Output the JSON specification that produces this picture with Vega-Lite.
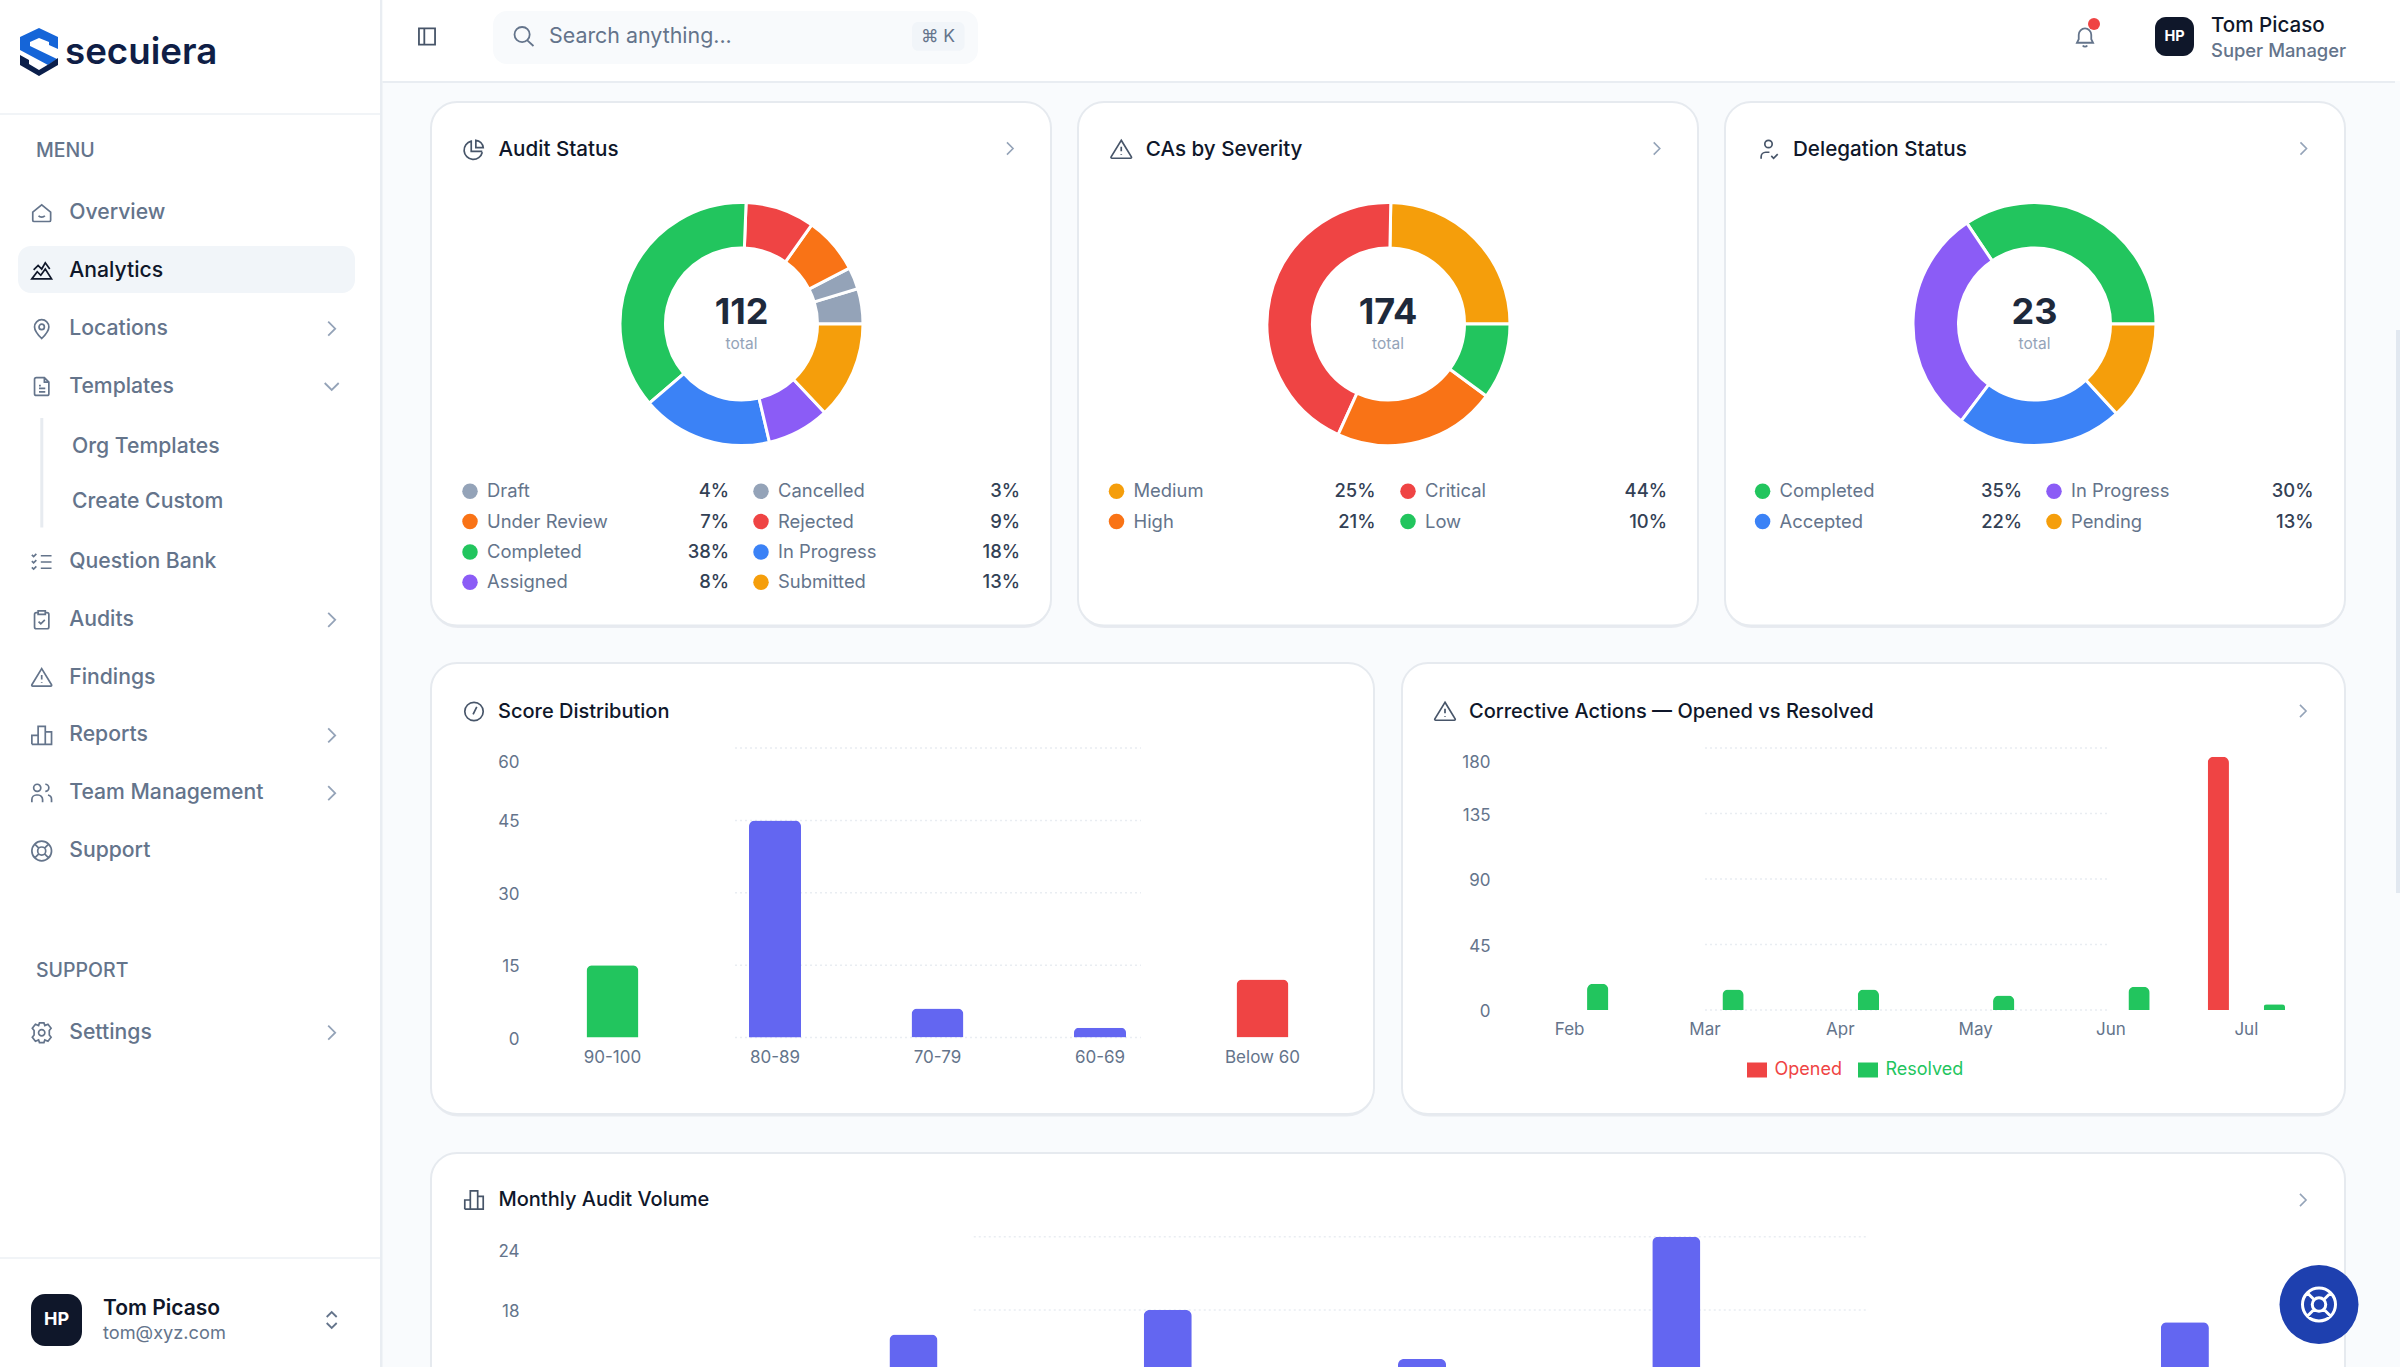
{
"$schema":"https://vega.github.io/schema/vega-lite/v6.json",
"width":2400,"height":1367,"padding":0,
"autosize":{"type":"none"},
"background":"#f9fbfd",
"config":{"font":"Inter","view":{"stroke":null},"axis":{"disable":true,"domain":false,"ticks":false,"grid":false},"legend":{"disable":true},"scale":{"pointPadding":0,"bandPaddingInner":0,"bandPaddingOuter":0}},
"resolve":{"scale":{"x":"independent","y":"independent","color":"independent","shape":"independent","theta":"independent","xOffset":"independent"},"axis":{"x":"independent","y":"independent"}},
"datasets":{
"menu":[
{"label":"Overview","group":"top"},{"label":"Analytics","group":"top"},{"label":"Locations","group":"top","arrow":"right"},{"label":"Templates","group":"top"},
{"label":"Question Bank","group":"bottom"},{"label":"Audits","group":"bottom","arrow":"right"},{"label":"Findings","group":"bottom"},{"label":"Reports","group":"bottom","arrow":"right"},{"label":"Team Management","group":"bottom","arrow":"right"},{"label":"Support","group":"bottom"},
{"label":"Settings","group":"settings","arrow":"right"}],
"audit":[
{"status":"Draft","share":0.04,"sweep":4.7,"rank":8,"column":"left","line":"first"},{"status":"Cancelled","share":0.03,"sweep":2.9,"rank":7,"column":"right","line":"first"},
{"status":"Under Review","share":0.07,"sweep":7.6,"rank":6,"column":"left","line":"second"},{"status":"Rejected","share":0.09,"sweep":9.2,"rank":5,"column":"right","line":"second"},
{"status":"Completed","share":0.38,"sweep":36.9,"rank":4,"column":"left","line":"third"},{"status":"In Progress","share":0.18,"sweep":17.4,"rank":3,"column":"right","line":"third"},
{"status":"Assigned","share":0.08,"sweep":8.3,"rank":2,"column":"left","line":"fourth"},{"status":"Submitted","share":0.13,"sweep":13,"rank":1,"column":"right","line":"fourth"}],
"severity":[
{"status":"Medium","share":0.25,"sweep":24.7,"rank":4,"column":"left","line":"first"},{"status":"Critical","share":0.44,"sweep":43.5,"rank":3,"column":"right","line":"first"},
{"status":"High","share":0.21,"sweep":21.7,"rank":2,"column":"left","line":"second"},{"status":"Low","share":0.10,"sweep":10.1,"rank":1,"column":"right","line":"second"}],
"delegation":[
{"status":"Completed","share":0.35,"sweep":34.4,"rank":4,"column":"left","line":"first"},{"status":"In Progress","share":0.30,"sweep":30.3,"rank":3,"column":"right","line":"first"},
{"status":"Accepted","share":0.22,"sweep":22.1,"rank":2,"column":"left","line":"second"},{"status":"Pending","share":0.13,"sweep":13.2,"rank":1,"column":"right","line":"second"}],
"totals":[{"card":"Audit Status","total":112,"unit":"total"},{"card":"CAs by Severity","total":174,"unit":"total"},{"card":"Delegation Status","total":23,"unit":"total"}],
"scores":[{"band":"90-100","count":15},{"band":"80-89","count":45},{"band":"70-79","count":6},{"band":"60-69","count":2},{"band":"Below 60","count":12}],
"actions":[
{"month":"Feb","series":"Opened","count":0},{"month":"Feb","series":"Resolved","count":18},
{"month":"Mar","series":"Opened","count":0},{"month":"Mar","series":"Resolved","count":14},
{"month":"Apr","series":"Opened","count":0},{"month":"Apr","series":"Resolved","count":14},
{"month":"May","series":"Opened","count":0},{"month":"May","series":"Resolved","count":10},
{"month":"Jun","series":"Opened","count":0},{"month":"Jun","series":"Resolved","count":16},
{"month":"Jul","series":"Opened","count":174},{"month":"Jul","series":"Resolved","count":4}],
"monthly":[{"month":"Jan","count":12},{"month":"Feb","count":16},{"month":"Mar","count":18},{"month":"Apr","count":14},{"month":"May","count":24},{"month":"Jun","count":11},{"month":"Jul","count":17}],
"scoreTicks":[{"tick":0},{"tick":15},{"tick":30},{"tick":45},{"tick":60}],
"actionTicks":[{"tick":0},{"tick":45},{"tick":90},{"tick":135},{"tick":180}],
"monthlyTicks":[{"tick":18},{"tick":24}]
},
"layer":[
{"data":{"values":[{"part":"sidebar"}]},"mark":{"type":"rect","color":"#ffffff"},"encoding":{"x":{"field":"part","type":"nominal","scale":{"range":[0,381]}},"y":{"field":"part","type":"nominal","scale":{"range":[0,1367]}}}},
{"data":{"values":[{"part":"sidebar edge"}]},"mark":{"type":"rect","color":"#e9edf2"},"encoding":{"x":{"field":"part","type":"nominal","scale":{"range":[380,382.5]}},"y":{"field":"part","type":"nominal","scale":{"range":[0,1367]}}}},
{"data":{"values":[{"part":"topbar"}]},"mark":{"type":"rect","color":"#ffffff"},"encoding":{"x":{"field":"part","type":"nominal","scale":{"range":[382.5,2400]}},"y":{"field":"part","type":"nominal","scale":{"range":[0,81]}}}},
{"data":{"values":[{"part":"topbar edge"}]},"mark":{"type":"rect","color":"#e9edf2"},"encoding":{"x":{"field":"part","type":"nominal","scale":{"range":[382.5,2395]}},"y":{"field":"part","type":"nominal","scale":{"range":[81,83]}}}},
{"data":{"values":[{"part":"logo edge"}]},"mark":{"type":"rect","color":"#f1f4f7"},"encoding":{"x":{"field":"part","type":"nominal","scale":{"range":[0,380]}},"y":{"field":"part","type":"nominal","scale":{"range":[113,115]}}}},
{"data":{"values":[{"part":"user edge"}]},"mark":{"type":"rect","color":"#f1f4f7"},"encoding":{"x":{"field":"part","type":"nominal","scale":{"range":[0,380]}},"y":{"field":"part","type":"nominal","scale":{"range":[1257,1259]}}}},
{"data":{"values":[{"part":"scrollbar"}]},"mark":{"type":"rect","color":"#e2e8f0"},"encoding":{"x":{"field":"part","type":"nominal","scale":{"range":[2396,2400]}},"y":{"field":"part","type":"nominal","scale":{"range":[330,893]}}}},

{"data":{"values":[{"part":"top"},{"part":"bottom"}]},"mark":{"type":"point","filled":true,"opacity":1,"size":4,"strokeWidth":0},"encoding":{
"x":{"field":"part","type":"nominal","scale":{"domain":["top","bottom"],"range":[39,39]}},
"y":{"field":"part","type":"nominal","scale":{"domain":["top","bottom"],"range":[52,52]}},
"shape":{"field":"part","type":"nominal","scale":{"domain":["top","bottom"],"range":["M0 -24 L19 -15 L19 -3 L10 -7 L10 -10 L0 -14 L-9 -10 L-9 -6 L18 7 L9 13 L-19 -2 L-19 -15 Z","M-19 3 L-10 8 L-10 12 L0 18 L10 12 L19 6 L19 13 L0 24 L-19 13 Z"]}},
"color":{"field":"part","type":"nominal","scale":{"domain":["top","bottom"],"range":["#1565d8","#0b1f4b"]}}}},
{"data":{"values":[{"name":"secuiera"}]},"mark":{"type":"text","align":"left","baseline":"middle","fontSize":36.7,"fontWeight":600,"color":"#0f1e46"},"encoding":{"x":{"field":"name","type":"nominal","scale":{"range":[65,65]}},"y":{"field":"name","type":"nominal","scale":{"range":[53,53]}},"text":{"field":"name"}}},
{"data":{"values":[{"name":"MENU"},{"name":"SUPPORT"}]},"mark":{"type":"text","align":"left","baseline":"middle","fontSize":19.5,"fontWeight":500,"color":"#64748b"},"encoding":{"x":{"field":"name","type":"nominal","scale":{"domain":["MENU","SUPPORT"],"range":[36,36]}},"y":{"field":"name","type":"nominal","scale":{"domain":["MENU","SUPPORT"],"range":[151,971]}},"text":{"field":"name"}}},
{"data":{"values":[{"part":"active item"}]},"mark":{"type":"rect","color":"#f1f5f9","cornerRadius":13},"encoding":{"x":{"field":"part","type":"nominal","scale":{"range":[18,355]}},"y":{"field":"part","type":"nominal","scale":{"range":[246,293]}}}},

{"data":{"name":"menu"},"transform":[{"filter":"datum.group=='top'"}],
"encoding":{"x":{"datum":"icon","type":"nominal","scale":{"domain":["icon","arrow"],"range":[41.7,331.7]}},"y":{"field":"label","type":"nominal","sort":null,"scale":{"range":[213,386.5]}}},
"layer":[
{"mark":{"type":"point","filled":false,"opacity":1,"size":3.2,"strokeWidth":1.7},"encoding":{"color":{"condition":{"test":"datum.label=='Analytics'","value":"#0f172a"},"value":"#64748b"},"shape":{"field":"label","type":"nominal","scale":{"domain":["Overview","Analytics","Locations","Templates"],"range":[
"M-10 -1 L0 -9 L10 -1 V8 a1.500 1.500 0 0 1 -1.500 1.500 H-8.500 a1.500 1.500 0 0 1 -1.500 -1.500 Z M-3.500 3 a4 3 0 0 0 7 0",
"M-11 9 L-5 1 L-1 5 L4 -2 L11 9 Z M-9 -1 L-4 -6 L0 -2 L4 -9 L9 -2",
"M0 11 C-5 6 -8 2 -8 -2 A8 8 0 0 1 8 -2 C8 2 5 6 0 11 Z M3 -2 A3 3 0 1 1 -3 -2 A3 3 0 1 1 3 -2",
"M-8 -8 a2 2 0 0 1 2 -2 H3 L8 -5 V8 a2 2 0 0 1 -2 2 H-6 a2 2 0 0 1 -2 -2 Z M3 -10 V-5 H8 M-3 -1 H-1 M-3 2 H4 M-3 6 H4"]}}}},
{"mark":{"type":"text","align":"left","baseline":"middle","fontSize":21.2,"fontWeight":500,"dx":27.5},"encoding":{"text":{"field":"label"},"color":{"condition":{"test":"datum.label=='Analytics'","value":"#0f172a"},"value":"#64748b"}}},
{"transform":[{"filter":"datum.arrow=='right'"}],"mark":{"type":"point","filled":false,"opacity":1,"size":4,"strokeWidth":1.8,"color":"#94a3b8","shape":"M-3.500 -7 L3.500 0 L-3.500 7"},"encoding":{"x":{"datum":"arrow","type":"nominal","scale":{"domain":["icon","arrow"],"range":[41.7,331.7]}}}},
{"transform":[{"filter":"datum.label=='Templates'"}],"mark":{"type":"point","filled":false,"opacity":1,"size":4,"strokeWidth":1.8,"color":"#94a3b8","shape":"M-7 -3.500 L0 3.500 L7 -3.500"},"encoding":{"x":{"datum":"arrow","type":"nominal","scale":{"domain":["icon","arrow"],"range":[41.7,331.7]}}}}
]},
{"data":{"values":[{"part":"tree line"}]},"mark":{"type":"rect","color":"#e7ebf0"},"encoding":{"x":{"field":"part","type":"nominal","scale":{"range":[40.3,43.3]}},"y":{"field":"part","type":"nominal","scale":{"range":[418,527.5]}}}},
{"data":{"values":[{"label":"Org Templates"},{"label":"Create Custom"}]},"mark":{"type":"text","align":"left","baseline":"middle","fontSize":21.2,"fontWeight":500,"color":"#64748b"},"encoding":{"x":{"field":"label","type":"nominal","scale":{"domain":["Org Templates","Create Custom"],"range":[72,72]}},"y":{"field":"label","type":"nominal","sort":null,"scale":{"range":[447.2,501.7]}},"text":{"field":"label"}}},
{"data":{"name":"menu"},"transform":[{"filter":"datum.group=='bottom'"}],
"encoding":{"x":{"datum":"icon","type":"nominal","scale":{"domain":["icon","arrow"],"range":[41.7,331.7]}},"y":{"field":"label","type":"nominal","sort":null,"scale":{"range":[562,851]}}},
"layer":[
{"mark":{"type":"point","filled":false,"opacity":1,"size":3.2,"strokeWidth":1.7,"color":"#64748b"},"encoding":{"shape":{"field":"label","type":"nominal","scale":{"domain":["Question Bank","Audits","Findings","Reports","Team Management","Support"],"range":[
"M-11 -8 L-9 -6 L-6 -9 M-11 -1 L-9 1 L-6 -2 M-11 6 L-9 8 L-6 5 M-1 -7 H11 M-1 0 H11 M-1 7 H11",
"M-4 -8 H-6 a2 2 0 0 0 -2 2 V8 a2 2 0 0 0 2 2 H6 a2 2 0 0 0 2 -2 V-6 a2 2 0 0 0 -2 -2 H4 M-4 -10 H4 V-6 H-4 Z M-3.500 2 L-1 4.500 L3.500 0",
"M0 -10 L11 8 a1 1 0 0 1 -1 1.500 H-10 a1 1 0 0 1 -1 -1.500 Z M0 -3 V2 M0 5 V5.800",
"M-11 10 H11 V-4 H4 M-11 10 V0 H-4 M-4 10 V-10 H4 V10",
"M-1 -6 a4 4 0 1 1 -8 0 a4 4 0 1 1 8 0 M-11 10 V7 a5 5 0 0 1 5 -5 H-4 a5 5 0 0 1 5 5 V10 M4 -10 a4 4 0 0 1 0 8 M7 2 a5 5 0 0 1 4 5 V10",
"M11 0 A11 11 0 1 1 -11 0 A11 11 0 1 1 11 0 M4.500 0 A4.500 4.500 0 1 1 -4.500 0 A4.500 4.500 0 1 1 4.500 0 M-8 -8 L-3.500 -3.500 M8 -8 L3.500 -3.500 M-8 8 L-3.500 3.500 M8 8 L3.500 3.500"]}}}},
{"mark":{"type":"text","align":"left","baseline":"middle","fontSize":21.2,"fontWeight":500,"dx":27.5,"color":"#64748b"},"encoding":{"text":{"field":"label"}}},
{"transform":[{"filter":"datum.arrow=='right'"}],"mark":{"type":"point","filled":false,"opacity":1,"size":4,"strokeWidth":1.8,"color":"#94a3b8","shape":"M-3.500 -7 L3.500 0 L-3.500 7"},"encoding":{"x":{"datum":"arrow","type":"nominal","scale":{"domain":["icon","arrow"],"range":[41.7,331.7]}}}}
]},
{"data":{"name":"menu"},"transform":[{"filter":"datum.group=='settings'"}],
"encoding":{"x":{"datum":"icon","type":"nominal","scale":{"domain":["icon","arrow"],"range":[41.7,331.7]}},"y":{"field":"label","type":"nominal","scale":{"range":[1032.7,1032.7]}}},
"layer":[
{"mark":{"type":"point","filled":false,"opacity":1,"size":3.2,"strokeWidth":1.7,"color":"#64748b","shape":"M3.500 0 A3.500 3.500 0 1 1 -3.500 0 A3.500 3.500 0 1 1 3.500 0 M-2.500 -11 H2.500 L3.500 -8 L7 -9.500 L10.500 -5 L8.500 -2.500 L8.500 2.500 L10.500 5 L7 9.500 L3.500 8 L2.500 11 H-2.500 L-3.500 8 L-7 9.500 L-10.500 5 L-8.500 2.500 L-8.500 -2.500 L-10.500 -5 L-7 -9.500 L-3.500 -8 Z"}},
{"mark":{"type":"text","align":"left","baseline":"middle","fontSize":21.2,"fontWeight":500,"dx":27.5,"color":"#64748b"},"encoding":{"text":{"field":"label"}}},
{"mark":{"type":"point","filled":false,"opacity":1,"size":4,"strokeWidth":1.8,"color":"#94a3b8","shape":"M-3.500 -7 L3.500 0 L-3.500 7"},"encoding":{"x":{"datum":"arrow","type":"nominal","scale":{"domain":["icon","arrow"],"range":[41.7,331.7]}}}}
]},
{"data":{"values":[{"part":"user avatar"}]},"mark":{"type":"rect","color":"#0f172a","cornerRadius":14},"encoding":{"x":{"field":"part","type":"nominal","scale":{"range":[31,82]}},"y":{"field":"part","type":"nominal","scale":{"range":[1294,1346]}}}},
{"data":{"values":[{"initials":"HP"}]},"mark":{"type":"text","align":"center","baseline":"middle","fontSize":18,"fontWeight":700,"color":"#ffffff"},"encoding":{"x":{"field":"initials","type":"nominal","scale":{"range":[56.5,56.5]}},"y":{"field":"initials","type":"nominal","scale":{"range":[1320,1320]}},"text":{"field":"initials"}}},
{"data":{"values":[{"name":"Tom Picaso"}]},"mark":{"type":"text","align":"left","baseline":"middle","fontSize":21,"fontWeight":600,"color":"#0f172a"},"encoding":{"x":{"field":"name","type":"nominal","scale":{"range":[103,103]}},"y":{"field":"name","type":"nominal","scale":{"range":[1309,1309]}},"text":{"field":"name"}}},
{"data":{"values":[{"email":"tom@xyz.com"}]},"mark":{"type":"text","align":"left","baseline":"middle","fontSize":18.2,"color":"#64748b"},"encoding":{"x":{"field":"email","type":"nominal","scale":{"range":[103,103]}},"y":{"field":"email","type":"nominal","scale":{"range":[1333.5,1333.5]}},"text":{"field":"email"}}},
{"data":{"values":[{"part":"switcher"}]},"mark":{"type":"point","filled":false,"opacity":1,"size":4,"strokeWidth":1.8,"color":"#64748b","shape":"M-5 -3 L0 -8 L5 -3 M-5 3 L0 8 L5 3"},"encoding":{"x":{"field":"part","type":"nominal","scale":{"range":[331.7,331.7]}},"y":{"field":"part","type":"nominal","scale":{"range":[1320,1320]}}}},

{"data":{"values":[{"part":"panel toggle"}]},"mark":{"type":"point","filled":false,"opacity":1,"size":3.2,"strokeWidth":1.8,"color":"#475569","shape":"M-9 -9 H9 V9 H-9 Z M-3 -9 V9"},"encoding":{"x":{"field":"part","type":"nominal","scale":{"range":[427,427]}},"y":{"field":"part","type":"nominal","scale":{"range":[36.5,36.5]}}}},
{"data":{"values":[{"part":"search box"}]},"mark":{"type":"rect","color":"#f8fafc","cornerRadius":14},"encoding":{"x":{"field":"part","type":"nominal","scale":{"range":[493,978]}},"y":{"field":"part","type":"nominal","scale":{"range":[11,64]}}}},
{"data":{"values":[{"part":"search icon"}]},"mark":{"type":"point","filled":false,"opacity":1,"size":3.6,"strokeWidth":1.8,"color":"#64748b","shape":"M6 -2 A8 8 0 1 1 -10 -2 A8 8 0 1 1 6 -2 M3.500 4 L10 10"},"encoding":{"x":{"field":"part","type":"nominal","scale":{"range":[524,524]}},"y":{"field":"part","type":"nominal","scale":{"range":[36.5,36.5]}}}},
{"data":{"values":[{"placeholder":"Search anything..."}]},"mark":{"type":"text","align":"left","baseline":"middle","fontSize":21.4,"color":"#64748b"},"encoding":{"x":{"field":"placeholder","type":"nominal","scale":{"range":[549,549]}},"y":{"field":"placeholder","type":"nominal","scale":{"range":[37,37]}},"text":{"field":"placeholder"}}},
{"data":{"values":[{"part":"shortcut"}]},"mark":{"type":"rect","color":"#f1f5f9","cornerRadius":6},"encoding":{"x":{"field":"part","type":"nominal","scale":{"range":[912,964.6]}},"y":{"field":"part","type":"nominal","scale":{"range":[22,50.7]}}}},
{"data":{"values":[{"keys":"⌘ K"}]},"mark":{"type":"text","align":"center","baseline":"middle","fontSize":17.5,"color":"#64748b"},"encoding":{"x":{"field":"keys","type":"nominal","scale":{"range":[938,938]}},"y":{"field":"keys","type":"nominal","scale":{"range":[36.5,36.5]}},"text":{"field":"keys"}}},
{"data":{"values":[{"part":"bell"}]},"mark":{"type":"point","filled":false,"opacity":1,"size":3.2,"strokeWidth":1.8,"color":"#64748b","shape":"M-7 3 V-2 a7 7 0 0 1 14 0 V3 L9 7 H-9 Z M-2.500 10 a3 3 0 0 0 5 0"},"encoding":{"x":{"field":"part","type":"nominal","scale":{"range":[2085,2085]}},"y":{"field":"part","type":"nominal","scale":{"range":[36.5,36.5]}}}},
{"data":{"values":[{"part":"badge"}]},"mark":{"type":"circle","opacity":1,"size":144,"color":"#ef4444"},"encoding":{"x":{"field":"part","type":"nominal","scale":{"range":[2094,2094]}},"y":{"field":"part","type":"nominal","scale":{"range":[24,24]}}}},
{"data":{"values":[{"part":"top avatar"}]},"mark":{"type":"rect","color":"#0f172a","cornerRadius":11},"encoding":{"x":{"field":"part","type":"nominal","scale":{"range":[2155,2194]}},"y":{"field":"part","type":"nominal","scale":{"range":[17,56]}}}},
{"data":{"values":[{"initials":"HP"}]},"mark":{"type":"text","align":"center","baseline":"middle","fontSize":14.5,"fontWeight":700,"color":"#ffffff"},"encoding":{"x":{"field":"initials","type":"nominal","scale":{"range":[2174.5,2174.5]}},"y":{"field":"initials","type":"nominal","scale":{"range":[36.5,36.5]}},"text":{"field":"initials"}}},
{"data":{"values":[{"name":"Tom Picaso"}]},"mark":{"type":"text","align":"left","baseline":"middle","fontSize":20.6,"fontWeight":500,"color":"#0f172a"},"encoding":{"x":{"field":"name","type":"nominal","scale":{"range":[2211,2211]}},"y":{"field":"name","type":"nominal","scale":{"range":[25.5,25.5]}},"text":{"field":"name"}}},
{"data":{"values":[{"role":"Super Manager"}]},"mark":{"type":"text","align":"left","baseline":"middle","fontSize":18.4,"fontWeight":500,"color":"#64748b"},"encoding":{"x":{"field":"role","type":"nominal","scale":{"range":[2211,2211]}},"y":{"field":"role","type":"nominal","scale":{"range":[50.5,50.5]}},"text":{"field":"role"}}},

{"data":{"name":"totals"},"mark":{"type":"rect","color":"#e8ebf0","cornerRadius":27},"encoding":{"x":{"field":"card","type":"nominal","sort":null,"scale":{"range":[431,2345],"paddingInner":0.0417,"paddingOuter":0}},"y":{"datum":"row one shadow","type":"nominal","scale":{"range":[104,628]}}}},
{"data":{"values":[{"card":"Score Distribution"},{"card":"Corrective Actions — Opened vs Resolved"}]},"mark":{"type":"rect","color":"#e8ebf0","cornerRadius":27},"encoding":{"x":{"field":"card","type":"nominal","sort":null,"scale":{"range":[431,2345],"paddingInner":0.0288,"paddingOuter":0}},"y":{"datum":"row two shadow","type":"nominal","scale":{"range":[665,1116.5]}}}},
{"data":{"name":"totals"},"mark":{"type":"rect","color":"#ffffff","stroke":"#e6eaef","strokeWidth":2,"cornerRadius":26},"encoding":{"x":{"field":"card","type":"nominal","sort":null,"scale":{"range":[431,2345],"paddingInner":0.0417,"paddingOuter":0}},"y":{"datum":"row one","type":"nominal","scale":{"range":[102,625.5]}}}},
{"data":{"values":[{"card":"Score Distribution"},{"card":"Corrective Actions — Opened vs Resolved"}]},"mark":{"type":"rect","color":"#ffffff","stroke":"#e6eaef","strokeWidth":2,"cornerRadius":26},"encoding":{"x":{"field":"card","type":"nominal","sort":null,"scale":{"range":[431,2345],"paddingInner":0.0288,"paddingOuter":0}},"y":{"datum":"row two","type":"nominal","scale":{"range":[663,1114]}}}},
{"data":{"values":[{"card":"Monthly Audit Volume"}]},"mark":{"type":"rect","color":"#ffffff","stroke":"#e6eaef","strokeWidth":2,"cornerRadius":26},"encoding":{"x":{"field":"card","type":"nominal","scale":{"range":[431,2345]}},"y":{"field":"card","type":"nominal","scale":{"range":[1153,1600]}}}},

{"data":{"name":"totals"},"encoding":{"x":{"field":"card","type":"nominal","sort":null,"scale":{"range":[474,1768.5]}},"y":{"datum":"header","type":"nominal","scale":{"range":[149.5,149.5]}}},
"layer":[
{"mark":{"type":"point","filled":false,"opacity":1,"size":3.4,"strokeWidth":1.7,"color":"#475569"},"encoding":{"shape":{"field":"card","type":"nominal","scale":{"domain":["Audit Status","CAs by Severity","Delegation Status"],"range":[
"M9 3 A10 10 0 1 1 -3 -9 V2 H9 M2 -10 A9 9 0 0 1 10 -2 H2 Z",
"M0 -10 L11 8 a1 1 0 0 1 -1 1.500 H-10 a1 1 0 0 1 -1 -1.500 Z M0 -3 V2 M0 5 V5.800",
"M4 -6 A4 4 0 1 1 -4 -6 A4 4 0 1 1 4 -6 M-8 10 V8 a5 5 0 0 1 5 -5 H1 M3 7 L5.500 9.500 L10 5"]}}}},
{"mark":{"type":"text","align":"left","baseline":"middle","fontSize":20.6,"fontWeight":500,"dx":24.5,"color":"#0f172a"},"encoding":{"text":{"field":"card"}}}
]},
{"data":{"name":"totals"},"mark":{"type":"point","filled":false,"opacity":1,"size":3,"strokeWidth":1.6,"color":"#94a3b8","shape":"M-3.500 -7 L3.500 0 L-3.500 7"},"encoding":{"x":{"field":"card","type":"nominal","sort":null,"scale":{"range":[1010,2303.5]}},"y":{"datum":"header","type":"nominal","scale":{"range":[148.5,148.5]}}}},
{"data":{"values":[{"card":"Score Distribution"},{"card":"Corrective Actions — Opened vs Resolved"}]},"encoding":{"x":{"field":"card","type":"nominal","sort":null,"scale":{"range":[474,1445]}},"y":{"datum":"header","type":"nominal","scale":{"range":[711.5,711.5]}}},
"layer":[
{"mark":{"type":"point","filled":false,"opacity":1,"size":3.4,"strokeWidth":1.7,"color":"#475569"},"encoding":{"shape":{"field":"card","type":"nominal","scale":{"domain":["Score Distribution","Corrective Actions — Opened vs Resolved"],"range":[
"M10 0 A10 10 0 1 1 -10 0 A10 10 0 1 1 10 0 M-1 3 L3 -5",
"M0 -10 L11 8 a1 1 0 0 1 -1 1.500 H-10 a1 1 0 0 1 -1 -1.500 Z M0 -3 V2 M0 5 V5.800"]}}}},
{"mark":{"type":"text","align":"left","baseline":"middle","fontSize":20,"fontWeight":500,"dx":24,"color":"#0f172a"},"encoding":{"text":{"field":"card"}}}
]},
{"data":{"values":[{"card":"Monthly Audit Volume"}]},"encoding":{"x":{"field":"card","type":"nominal","scale":{"range":[474,474]}},"y":{"field":"card","type":"nominal","scale":{"range":[1200,1200]}}},
"layer":[
{"mark":{"type":"point","filled":false,"opacity":1,"size":3.4,"strokeWidth":1.7,"color":"#475569","shape":"M-10 10 H10 V-4 H4 M-10 10 V0 H-4 M-4 10 V-10 H4 V10"}},
{"mark":{"type":"text","align":"left","baseline":"middle","fontSize":20,"fontWeight":500,"dx":24.5,"color":"#0f172a"},"encoding":{"text":{"field":"card"}}}
]},
{"data":{"values":[{"card":"Corrective Actions"},{"card":"Monthly Audit Volume"}]},"mark":{"type":"point","filled":false,"opacity":1,"size":3,"strokeWidth":1.6,"color":"#94a3b8","shape":"M-3.500 -7 L3.500 0 L-3.500 7"},"encoding":{"x":{"field":"card","type":"nominal","sort":null,"scale":{"range":[2303,2303]}},"y":{"field":"card","type":"nominal","sort":null,"scale":{"range":[711,1200]}}}},

{"data":{"name":"audit"},"mark":{"type":"arc","radius":121.5,"radius2":76,"stroke":"#ffffff","strokeWidth":3},"encoding":{
"x":{"datum":"Audit Status","type":"nominal","scale":{"range":[741.5,741.5]}},"y":{"datum":"Audit Status","type":"nominal","scale":{"range":[324,324]}},
"theta":{"field":"sweep","type":"quantitative","stack":true,"scale":{"range":[1.5708,7.854]}},"order":{"field":"rank","type":"quantitative"},
"color":{"field":"status","type":"nominal","scale":{"domain":["Draft","Cancelled","Under Review","Rejected","Completed","In Progress","Assigned","Submitted"],"range":["#94a3b8","#94a3b8","#f97316","#ef4444","#22c55e","#3b82f6","#8b5cf6","#f59e0b"]}}}},
{"data":{"name":"severity"},"mark":{"type":"arc","radius":121.5,"radius2":76,"stroke":"#ffffff","strokeWidth":3},"encoding":{
"x":{"datum":"CAs by Severity","type":"nominal","scale":{"range":[1388.5,1388.5]}},"y":{"datum":"CAs by Severity","type":"nominal","scale":{"range":[324,324]}},
"theta":{"field":"sweep","type":"quantitative","stack":true,"scale":{"range":[1.5708,7.854]}},"order":{"field":"rank","type":"quantitative"},
"color":{"field":"status","type":"nominal","scale":{"domain":["Medium","Critical","High","Low"],"range":["#f59e0b","#ef4444","#f97316","#22c55e"]}}}},
{"data":{"name":"delegation"},"mark":{"type":"arc","radius":121.5,"radius2":76,"stroke":"#ffffff","strokeWidth":3},"encoding":{
"x":{"datum":"Delegation Status","type":"nominal","scale":{"range":[2034.5,2034.5]}},"y":{"datum":"Delegation Status","type":"nominal","scale":{"range":[324,324]}},
"theta":{"field":"sweep","type":"quantitative","stack":true,"scale":{"range":[1.5708,7.854]}},"order":{"field":"rank","type":"quantitative"},
"color":{"field":"status","type":"nominal","scale":{"domain":["Completed","In Progress","Accepted","Pending"],"range":["#22c55e","#8b5cf6","#3b82f6","#f59e0b"]}}}},
{"data":{"name":"totals"},"mark":{"type":"text","align":"center","baseline":"middle","fontSize":36,"fontWeight":700,"color":"#1e293b"},"encoding":{"x":{"field":"card","type":"nominal","sort":null,"scale":{"range":[741.5,2034.5]}},"y":{"datum":"total","type":"nominal","scale":{"range":[313,313]}},"text":{"field":"total"}}},
{"data":{"name":"totals"},"mark":{"type":"text","align":"center","baseline":"middle","fontSize":15.5,"color":"#94a3b8"},"encoding":{"x":{"field":"card","type":"nominal","sort":null,"scale":{"range":[741.5,2034.5]}},"y":{"datum":"unit","type":"nominal","scale":{"range":[343.5,343.5]}},"text":{"field":"unit"}}},

{"data":{"name":"audit"},"encoding":{"x":{"field":"column","type":"nominal","scale":{"domain":["left","right"],"range":[470,761]}},"y":{"field":"line","type":"nominal","scale":{"domain":["first","second","third","fourth"],"range":[491.3,582.2]}}},
"layer":[
{"mark":{"type":"circle","opacity":1,"size":240},"encoding":{"color":{"field":"status","type":"nominal","scale":{"domain":["Draft","Cancelled","Under Review","Rejected","Completed","In Progress","Assigned","Submitted"],"range":["#94a3b8","#94a3b8","#f97316","#ef4444","#22c55e","#3b82f6","#8b5cf6","#f59e0b"]}}}},
{"mark":{"type":"text","align":"left","baseline":"middle","fontSize":18.4,"dx":17,"color":"#64748b"},"encoding":{"text":{"field":"status"}}},
{"mark":{"type":"text","align":"right","baseline":"middle","fontSize":18.4,"fontWeight":500,"dx":259,"color":"#334155"},"encoding":{"text":{"field":"share","type":"quantitative","format":".0%"}}}
]},
{"data":{"name":"severity"},"encoding":{"x":{"field":"column","type":"nominal","scale":{"domain":["left","right"],"range":[1116.5,1408]}},"y":{"field":"line","type":"nominal","scale":{"domain":["first","second"],"range":[491.3,521.5]}}},
"layer":[
{"mark":{"type":"circle","opacity":1,"size":240},"encoding":{"color":{"field":"status","type":"nominal","scale":{"domain":["Medium","Critical","High","Low"],"range":["#f59e0b","#ef4444","#f97316","#22c55e"]}}}},
{"mark":{"type":"text","align":"left","baseline":"middle","fontSize":18.4,"dx":17,"color":"#64748b"},"encoding":{"text":{"field":"status"}}},
{"mark":{"type":"text","align":"right","baseline":"middle","fontSize":18.4,"fontWeight":500,"dx":259,"color":"#334155"},"encoding":{"text":{"field":"share","type":"quantitative","format":".0%"}}}
]},
{"data":{"name":"delegation"},"encoding":{"x":{"field":"column","type":"nominal","scale":{"domain":["left","right"],"range":[1762.6,2054]}},"y":{"field":"line","type":"nominal","scale":{"domain":["first","second"],"range":[491.3,521.5]}}},
"layer":[
{"mark":{"type":"circle","opacity":1,"size":240},"encoding":{"color":{"field":"status","type":"nominal","scale":{"domain":["Completed","In Progress","Accepted","Pending"],"range":["#22c55e","#8b5cf6","#3b82f6","#f59e0b"]}}}},
{"mark":{"type":"text","align":"left","baseline":"middle","fontSize":18.4,"dx":17,"color":"#64748b"},"encoding":{"text":{"field":"status"}}},
{"mark":{"type":"text","align":"right","baseline":"middle","fontSize":18.4,"fontWeight":500,"dx":259.5,"color":"#334155"},"encoding":{"text":{"field":"share","type":"quantitative","format":".0%"}}}
]},

{"data":{"name":"scoreTicks"},"mark":{"type":"rule","color":"#e9edf2","strokeWidth":1.5,"strokeDash":[2,3]},"encoding":{"x":{"datum":"start","type":"nominal","scale":{"domain":["start","end"],"range":[532,1344]}},"x2":{"datum":"end"},"y":{"field":"tick","type":"quantitative","scale":{"domain":[0,60],"range":[1037.5,748]}}}},
{"data":{"name":"scores"},"mark":{"type":"bar","cornerRadiusTopLeft":6,"cornerRadiusTopRight":6},"encoding":{
"x":{"field":"band","type":"nominal","sort":null,"scale":{"range":[531.25,1343.75],"paddingInner":0.68,"paddingOuter":0.34},"axis":{"disable":false,"orient":"bottom","offset":-329.5,"title":null,"labelAngle":0,"labelPadding":11.5,"labelFontSize":17,"labelColor":"#64748b","zindex":1}},
"y":{"field":"count","type":"quantitative","scale":{"domain":[0,60],"range":[1037.5,748]},"axis":{"disable":false,"orient":"left","offset":-532,"title":null,"values":[0,15,30,45,60],"labelPadding":13,"labelFontSize":17,"labelColor":"#64748b","labelOffset":{"condition":{"test":"datum.value==60","value":14},"value":1.5},"zindex":1}},
"color":{"field":"band","type":"nominal","scale":{"domain":["90-100","80-89","70-79","60-69","Below 60"],"range":["#22c55e","#6366f1","#6366f1","#6366f1","#ef4444"]}}}},

{"data":{"name":"actionTicks"},"mark":{"type":"rule","color":"#e9edf2","strokeWidth":1.5,"strokeDash":[2,3]},"encoding":{"x":{"datum":"start","type":"nominal","scale":{"domain":["start","end"],"range":[1503,2311]}},"x2":{"datum":"end"},"y":{"field":"tick","type":"quantitative","scale":{"domain":[0,180],"range":[1010,748]}}}},
{"data":{"name":"actions"},"mark":{"type":"bar","cornerRadiusTopLeft":6,"cornerRadiusTopRight":6},"encoding":{
"x":{"field":"month","type":"nominal","sort":null,"scale":{"range":[1502,2314],"paddingInner":0.18,"paddingOuter":0.09},"axis":{"disable":false,"orient":"bottom","offset":-357,"title":null,"labelAngle":0,"labelPadding":11,"labelFontSize":17,"labelColor":"#64748b","zindex":1}},
"xOffset":{"field":"series","type":"nominal","scale":{"domain":["Opened","Resolved"],"paddingInner":0.62,"paddingOuter":0.3}},
"y":{"field":"count","type":"quantitative","scale":{"domain":[0,180],"range":[1010,748]},"axis":{"disable":false,"orient":"left","offset":-1503,"title":null,"values":[0,45,90,135,180],"labelPadding":13,"labelFontSize":17,"labelColor":"#64748b","labelOffset":{"condition":{"test":"datum.value==180","value":14},"value":1.5},"zindex":1}},
"color":{"field":"series","type":"nominal","scale":{"domain":["Opened","Resolved"],"range":["#ef4444","#22c55e"]}}}},
{"data":{"values":[{"series":"Opened"},{"series":"Resolved"}]},"encoding":{"x":{"field":"series","type":"nominal","scale":{"domain":["Opened","Resolved"],"range":[1757,1868]}},"y":{"datum":"legend","type":"nominal","scale":{"range":[1070,1070]}},"color":{"field":"series","type":"nominal","scale":{"domain":["Opened","Resolved"],"range":["#ef4444","#22c55e"]}}},
"layer":[
{"mark":{"type":"point","filled":true,"opacity":1,"size":4,"strokeWidth":0,"shape":"M-10 -7.500 H10 V7.500 H-10 Z"}},
{"mark":{"type":"text","align":"left","baseline":"middle","fontSize":18,"dx":17.5},"encoding":{"text":{"field":"series"}}}
]},

{"data":{"name":"monthlyTicks"},"mark":{"type":"rule","color":"#e9edf2","strokeWidth":1.5,"strokeDash":[2,3]},"encoding":{"x":{"datum":"start","type":"nominal","scale":{"domain":["start","end"],"range":[527,2314]}},"x2":{"datum":"end"},"y":{"field":"tick","type":"quantitative","scale":{"domain":[0,24],"range":[1530,1236.7]}}}},
{"data":{"name":"monthly"},"mark":{"type":"bar","cornerRadiusTopLeft":6,"cornerRadiusTopRight":6,"color":"#6366f1"},"encoding":{
"x":{"field":"month","type":"nominal","sort":null,"scale":{"range":[532,2312],"paddingInner":0.811,"paddingOuter":0.4055}},
"y":{"field":"count","type":"quantitative","scale":{"domain":[0,24],"range":[1530,1236.7]},"axis":{"disable":false,"orient":"left","offset":-531,"title":null,"values":[18,24],"labelPadding":12,"labelFontSize":17,"labelColor":"#64748b","labelOffset":{"condition":{"test":"datum.value==24","value":15},"value":1.5},"zindex":1}}}},

{"data":{"values":[{"part":"help button"}]},"encoding":{"x":{"field":"part","type":"nominal","scale":{"range":[2319,2319]}},"y":{"field":"part","type":"nominal","scale":{"range":[1304.5,1304.5]}}},
"layer":[
{"mark":{"type":"circle","opacity":1,"size":6241,"color":"#1e40af"}},
{"mark":{"type":"point","filled":false,"opacity":1,"size":9,"strokeWidth":3,"color":"#ffffff","shape":"M11 0 A11 11 0 1 1 -11 0 A11 11 0 1 1 11 0 M4.500 0 A4.500 4.500 0 1 1 -4.500 0 A4.500 4.500 0 1 1 4.500 0 M-8 -8 L-3.500 -3.500 M8 -8 L3.500 -3.500 M-8 8 L-3.500 3.500 M8 8 L3.500 3.500"}}
]}
]}
